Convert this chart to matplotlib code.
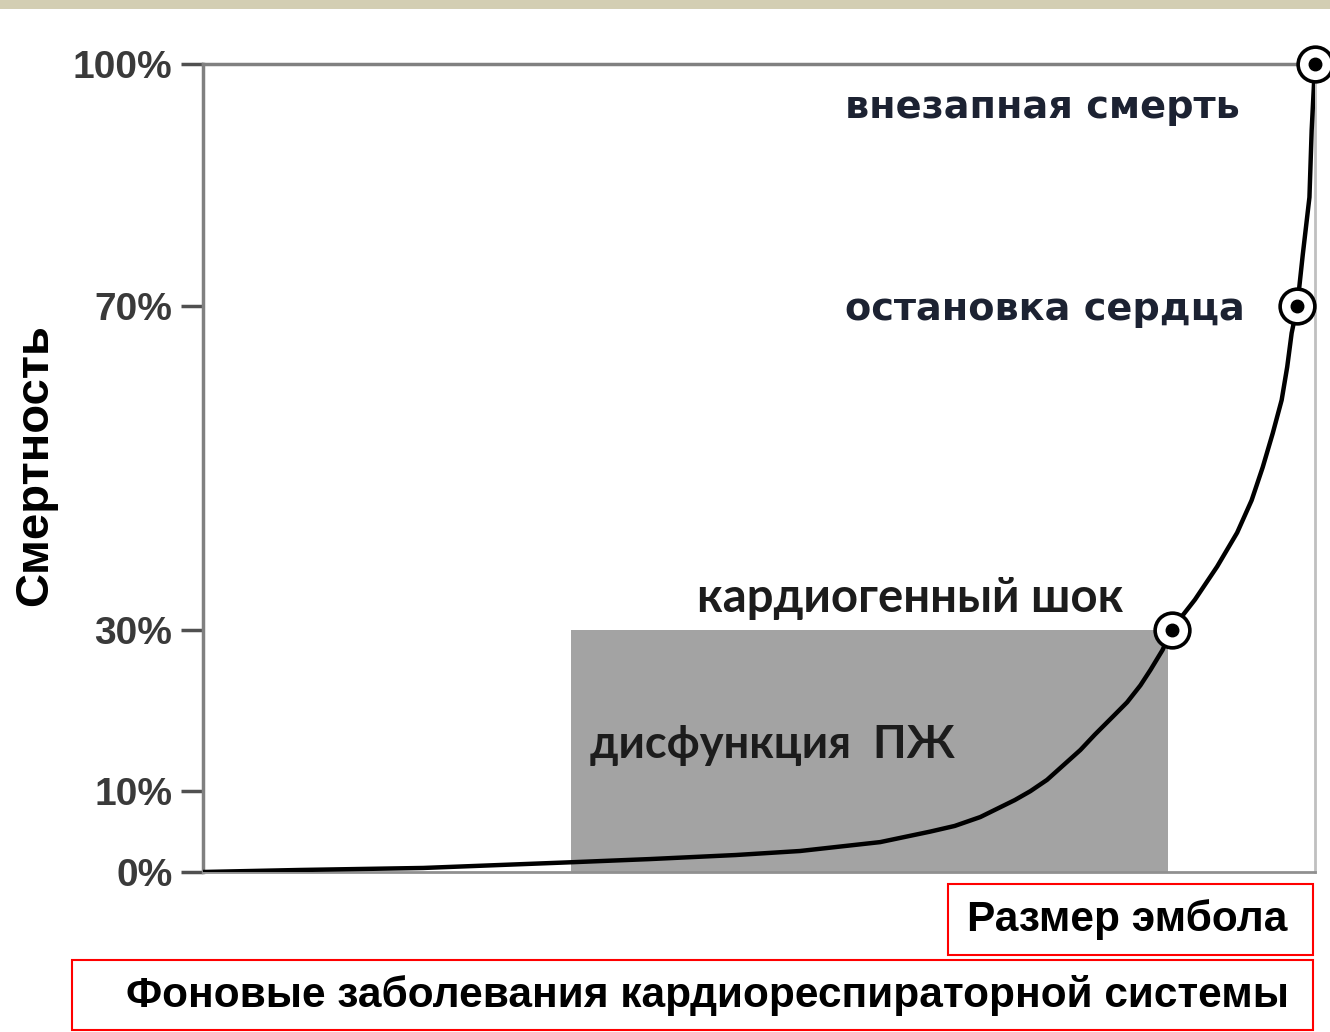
import matplotlib.pyplot as plt
from matplotlib.patches import Rectangle

# Curve of mortality vs embolus size (arbitrary x units 0..100)
size_x = [0, 8.7, 19.8, 33.0, 40.2, 47.9, 53.7, 60.9, 65.4, 67.6, 69.9, 73.0,
          74.4, 75.9, 78.9, 80.2, 81.8, 83.1, 84.3, 85.2, 86.3, 87.1, 89.2,
          91.2, 93.0, 94.3, 95.3, 96.2, 97.0, 97.5, 97.9, 98.4, 98.9, 99.5,
          99.7, 100]
mortality = [0, 0.25, 0.5, 1.2, 1.6, 2.1, 2.6, 3.7, 5.0, 5.7, 6.8, 8.9,
             10.0, 11.4, 15.1, 17.0, 19.2, 21.0, 23.1, 25.0, 27.5, 30, 33.7,
             37.8, 42.0, 46.0, 50.1, 54.3, 58.4, 62.5, 66.7, 70, 76.4, 83.5,
             91.8, 100]

# marked stages
stage_x = [87.1, 98.4, 100]
stage_y = [30, 70, 100]
stage_labels = ["кардиогенный шок", "остановка сердца", "внезапная смерть"]

# shaded zone of RV dysfunction
zone_x = [33.1, 86.8]
zone_top = 30

y_ticks = [0, 10, 30, 70, 100]
y_ticklabels = ["0%", "10%", "30%", "70%", "100%"]

W, H = 1330, 1032
fig = plt.figure(figsize=(W / 100, H / 100), dpi=100)
fig.patch.set_facecolor("white")

# beige strip on top
fig.patches.append(Rectangle((0, 1 - 9 / H), 1, 9 / H, transform=fig.transFigure,
                             facecolor="#d3ceb3", edgecolor="none"))

ax = fig.add_axes([203 / W, 1 - 872 / H, (1315 - 203) / W, (872 - 64) / H])
ax.set_xlim(0, 100)
ax.set_ylim(0, 100)

ax.add_patch(Rectangle((zone_x[0], 0), zone_x[1] - zone_x[0], zone_top,
                       facecolor="#a3a3a3", edgecolor="none", zorder=1))

ax.plot(size_x, mortality, color="black", lw=3.2, zorder=3,
        solid_capstyle="round", solid_joinstyle="round")
ax.plot(stage_x, stage_y, "o", ms=25, mfc="white", mec="black", mew=2.6,
        zorder=4, clip_on=False)
ax.plot(stage_x, stage_y, "o", ms=9, mfc="black", mec="black", zorder=5, clip_on=False)

for sp in ["left", "top"]:
    ax.spines[sp].set_color("#808080")
    ax.spines[sp].set_linewidth(2.5)
ax.spines["right"].set_color("#c0c0c0")
ax.spines["right"].set_linewidth(2)
ax.spines["bottom"].set_color("#909090")
ax.spines["bottom"].set_linewidth(2)

ax.set_xticks([])
ax.set_yticks(y_ticks)
ax.set_yticklabels(y_ticklabels, fontsize=28, fontweight="bold",
                   color="#3a3a3a", family="Liberation Sans")
ax.tick_params(axis="y", length=16, width=2.5, color="#505050", pad=6)

ax.text(57.7, 94.6, stage_labels[2], fontsize=27.5, fontweight="bold",
        color="#1c2232", va="center", ha="left", family="DejaVu Sans")
ax.text(57.7, 69.6, stage_labels[1], fontsize=27.5, fontweight="bold",
        color="#1c2232", va="center", ha="left", family="DejaVu Sans")
ax.text(44.4, 33.9, stage_labels[0], fontsize=34, fontweight="bold",
        color="#1c1c1c", va="center", ha="left", family="Lato")
ax.text(34.8, 15.7, "дисфункция  ПЖ", fontsize=32.5, fontweight="bold",
        color="#1c1c1c", va="center", ha="left", family="Lato")

fig.text(35 / W, 1 - 465 / H, "Смертность", rotation=90, fontsize=34,
         fontweight="bold", family="Liberation Sans", ha="center", va="center")

# red boxes with axis captions
fig.patches.append(Rectangle((948 / W, 1 - 955 / H), (1313 - 948) / W, 71 / H,
                             transform=fig.transFigure, facecolor="none",
                             edgecolor="#ff0000", lw=1.5))
fig.text(1127 / W, 1 - 920 / H, "Размер эмбола", fontsize=30.5, fontweight="bold",
         family="Liberation Sans", ha="center", va="center")
fig.patches.append(Rectangle((72 / W, 1 - 1030 / H), (1313 - 72) / W, 70 / H,
                             transform=fig.transFigure, facecolor="none",
                             edgecolor="#ff0000", lw=1.5))
fig.text(708 / W, 1 - 995 / H, "Фоновые заболевания кардиореспираторной системы",
         fontsize=30.5, fontweight="bold", family="Liberation Sans",
         ha="center", va="center")

fig.savefig("out.png", dpi=100)
